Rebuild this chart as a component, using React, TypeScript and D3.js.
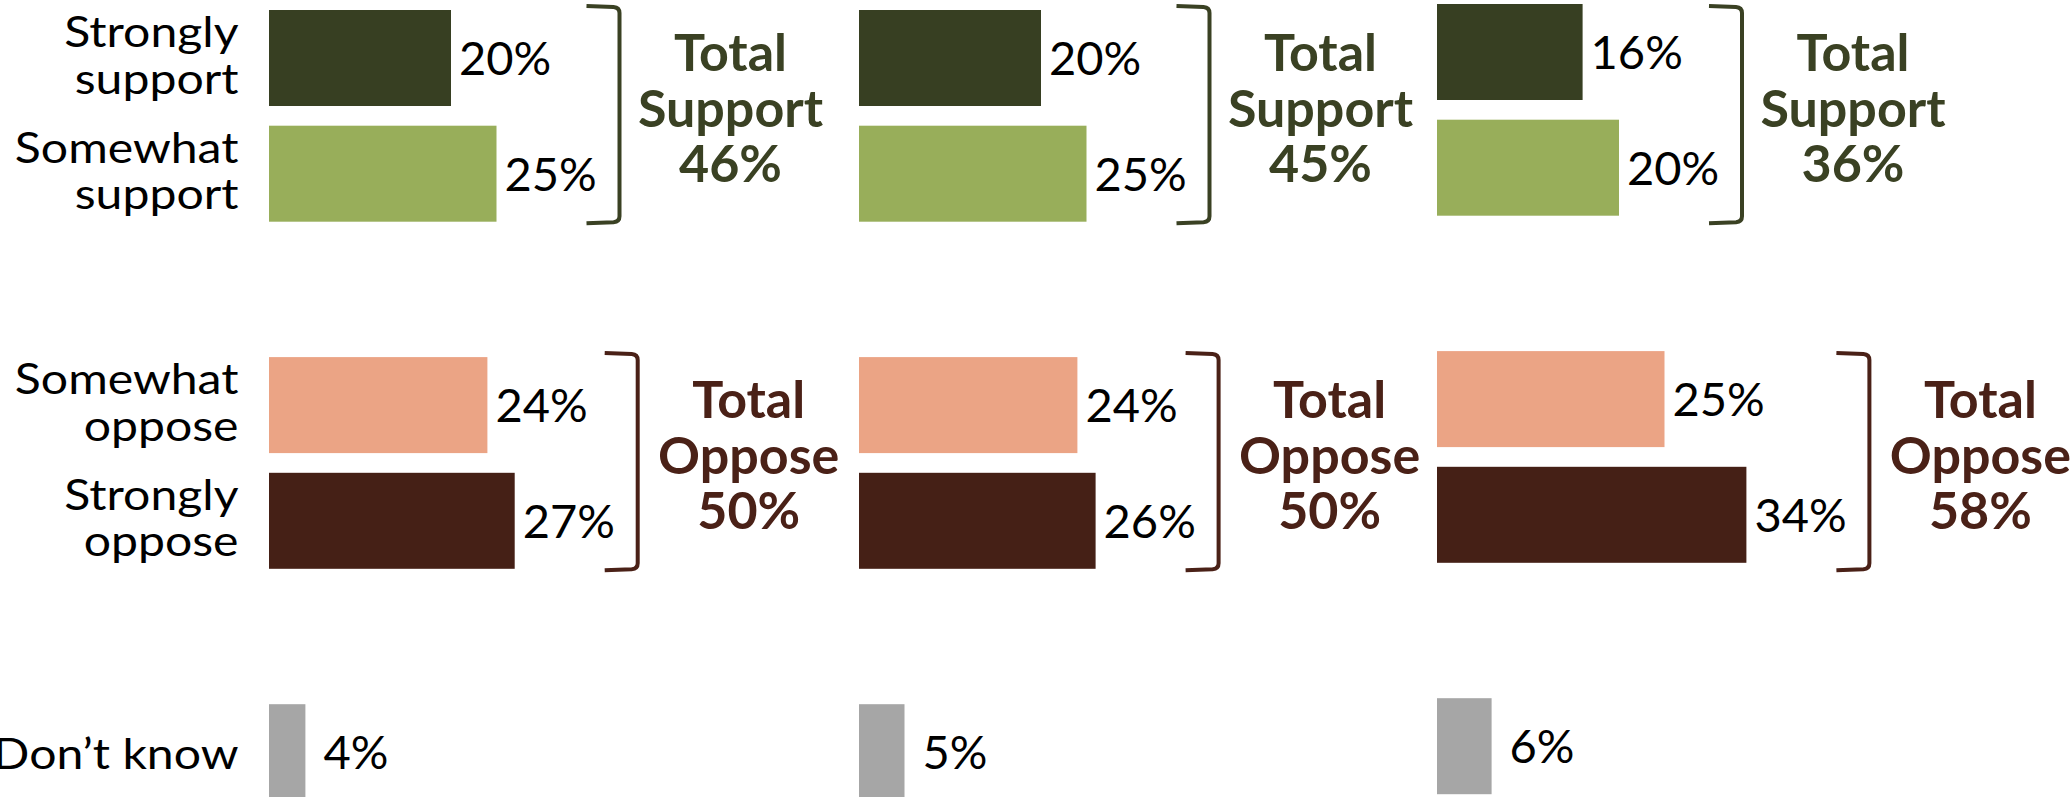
import * as d3 from "d3";
import React from "react";

// survey results, one column per panel
const panelIds = ["p1", "p2", "p3"];
const strongSupport = [20, 20, 16];
const somewhatSupport = [25, 25, 20];
const somewhatOppose = [24, 24, 25];
const strongOppose = [27, 26, 34];
const dontKnow = [4, 5, 6];
const totalSupport = [46, 45, 36];
const totalOppose = [50, 50, 58];

const rowKeys = [
  "Strongly support",
  "Somewhat support",
  "gap1",
  "Somewhat oppose",
  "Strongly oppose",
  "gap2",
  "Don’t know",
];

// layout
const W = 2070;
const H = 797;
const panelLeft = [269, 859, 1437];
const panelShift = [0, 0, -6];
const FONT = "Lato, 'Open Sans', sans-serif";
const LABEL_X = 238.5;

const rows = [
  { key: "Strongly support", label: ["Strongly", "support"], values: strongSupport, color: "#373F22" },
  { key: "Somewhat support", label: ["Somewhat", "support"], values: somewhatSupport, color: "#98AE5A" },
  { key: "Somewhat oppose", label: ["Somewhat", "oppose"], values: somewhatOppose, color: "#EBA485" },
  { key: "Strongly oppose", label: ["Strongly", "oppose"], values: strongOppose, color: "#452016" },
  { key: "Don’t know", label: ["Don’t know"], values: dontKnow, color: "#A6A6A6" },
];

const groups = [
  { keys: ["Strongly support", "Somewhat support"], title: ["Total", "Support"], totals: totalSupport, color: "#3A4123" },
  { keys: ["Somewhat oppose", "Strongly oppose"], title: ["Total", "Oppose"], totals: totalOppose, color: "#4A2117" },
];

const App: React.FC = () => {
  const x = d3.scaleLinear().domain([0, 100]).range([0, 910]);
  const y = d3
    .scaleBand<string>()
    .domain(rowKeys)
    .range([10, 10 + 6 * 115.7 + 96])
    .paddingInner(1 - 96 / 115.7)
    .paddingOuter(0);
  const bw = y.bandwidth();

  return (
    <svg
      width={W}
      height={H}
      style={{ position: "absolute", left: 0, top: 0, display: "block", background: "#fff" }}
      fontFamily={FONT}
    >
      {/* row labels, first panel only */}
      {rows.map((r) => {
        const cy = (y(r.key) as number) + bw / 2;
        const baseY = r.label.length === 1 ? cy + 16.5 : cy - 11;
        return (
          <text
            key={r.key}
            transform={`translate(${LABEL_X},${baseY}) scale(1.12,1)`}
            fontSize={43}
            textAnchor="end"
            fill="#000"
          >
            {r.label.map((l, li) => (
              <tspan key={li} x={0} dy={li === 0 ? 0 : 46.6}>
                {l}
              </tspan>
            ))}
          </text>
        );
      })}

      {panelIds.map((pid, i) => {
        const x0 = panelLeft[i];
        return (
          <g key={pid}>
            {rows.map((r) => {
              const top = (y(r.key) as number) + panelShift[i];
              const v = r.values[i];
              const gap = r.key === "Don’t know" ? 18 : 8;
              return (
                <g key={r.key}>
                  <rect x={x0} y={top} width={x(v)} height={bw} fill={r.color} />
                  <text
                    x={x0 + x(v) + gap}
                    y={top + bw / 2 + 17}
                    fontSize={47}
                    fill="#000"
                  >
                    {v}%
                  </text>
                </g>
              );
            })}
            {groups.map((g) => {
              const top = (y(g.keys[0]) as number) - 4;
              const bottom = (y(g.keys[1]) as number) + bw + 1.5;
              const maxV = d3.max(g.keys, (k) => rows.find((r) => r.key === k)!.values[i]) as number;
              const bx = x0 + x(maxV) + 123;
              const bl = bx - 33;
              const rr = 6;
              const path = `M${bl},${top} L${bx - rr},${top + 1} Q${bx},${top + 1.5} ${bx},${top + rr + 1} L${bx},${bottom - rr - 1} Q${bx},${bottom - 1.5} ${bx - rr},${bottom - 1} L${bl},${bottom}`;
              const cy = (top + bottom) / 2;
              const cx = bx + 111;
              const lines = [g.title[0], g.title[1], `${g.totals[i]}%`];
              return (
                <g key={g.title[1]}>
                  <path d={path} fill="none" stroke={g.color} strokeWidth={4} />
                  {lines.map((t, li) => (
                    <text
                      key={li}
                      x={cx}
                      y={cy + 12 + (li - 1) * 55.5}
                      fontSize={52}
                      fontWeight="bold"
                      textAnchor="middle"
                      fill={g.color}
                    >
                      {t}
                    </text>
                  ))}
                </g>
              );
            })}
          </g>
        );
      })}
    </svg>
  );
};

export default App;
